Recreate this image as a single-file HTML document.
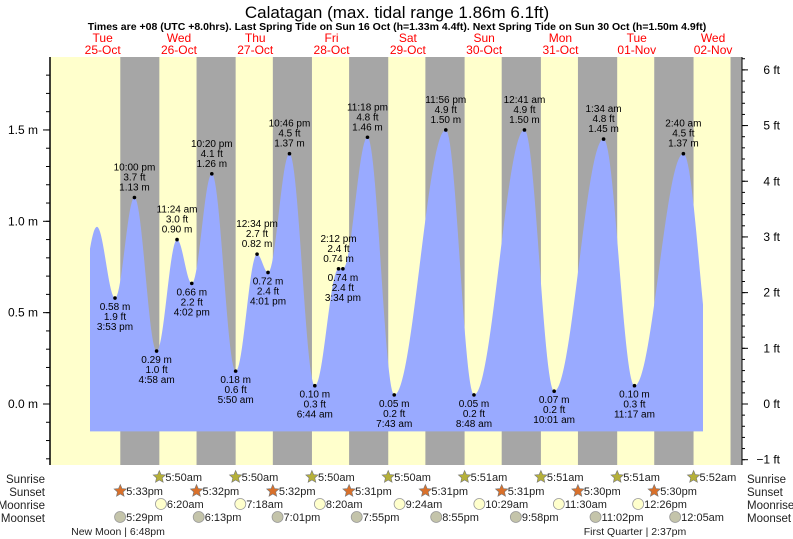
<!DOCTYPE html>
<html><head><meta charset="utf-8"><style>
body{margin:0;background:#fff;}
svg{display:block;font-family:"Liberation Sans",sans-serif;}
</style></head><body>
<svg id="c" width="793" height="539" viewBox="0 0 793 539" xmlns="http://www.w3.org/2000/svg">
<text x="397" y="18" font-size="17" text-anchor="middle" fill="#000">Calatagan (max. tidal range 1.86m 6.1ft)</text>
<text x="397" y="30" font-size="10.5" font-weight="bold" text-anchor="middle">Times are +08 (UTC +8.0hrs). Last Spring Tide on Sun 16 Oct (h=1.33m 4.4ft). Next Spring Tide on Sun 30 Oct (h=1.50m 4.9ft)</text>
<g id="bg"></g><g id="tide"></g><g id="axes"></g><g id="lbl"></g><g id="astro"></g>
</svg>
<script>
const dayNames=["Tue","Wed","Thu","Fri","Sat","Sun","Mon","Tue","Wed"];
const dayDates=["25-Oct","26-Oct","27-Oct","28-Oct","29-Oct","30-Oct","31-Oct","01-Nov","02-Nov"];
// extremes: day offset from 25-Oct, hour (decimal), height m, labelled
const tideDay=[0,0,0,0,1,1,1,1,2,2,2,2,3,3,3,3,4,4,5,6,6,7,7,8,8];
const tideHour=[3.0,10.2,15.883,22.0,4.967,11.4,16.033,22.333,5.833,12.567,16.017,22.767,6.733,14.2,15.567,23.3,7.717,23.933,8.8,0.683,10.017,1.567,11.283,2.667,12.7];
const tideM=[0.40,0.97,0.58,1.13,0.29,0.90,0.66,1.26,0.18,0.82,0.72,1.37,0.10,0.74,0.74,1.46,0.05,1.50,0.05,1.50,0.07,1.45,0.10,1.37,0.15];
const tideFt=["","","1.9","3.7","1.0","3.0","2.2","4.1","0.6","2.7","2.4","4.5","0.3","2.4","2.4","4.8","0.2","4.9","0.2","4.9","0.2","4.8","0.3","4.5",""];
const tideTime=["","","3:53 pm","10:00 pm","4:58 am","11:24 am","4:02 pm","10:20 pm","5:50 am","12:34 pm","4:01 pm","10:46 pm","6:44 am","2:12 pm","3:34 pm","11:18 pm","7:43 am","11:56 pm","8:48 am","12:41 am","10:01 am","1:34 am","11:17 am","2:40 am",""];
const sunriseDay=[1,2,3,4,5,6,7,8];
const sunriseHour=[5.833,5.833,5.833,5.833,5.85,5.85,5.85,5.867];
const sunriseTxt=["5:50am","5:50am","5:50am","5:50am","5:51am","5:51am","5:51am","5:52am"];
const sunsetDay=[0,1,2,3,4,5,6,7,8];
const sunsetHour=[17.55,17.533,17.533,17.517,17.517,17.517,17.5,17.5,17.5];
const sunsetTxt=["5:33pm","5:32pm","5:32pm","5:31pm","5:31pm","5:31pm","5:30pm","5:30pm",""];
const moonriseDay=[1,2,3,4,5,6,7];
const moonriseHour=[6.333,7.3,8.333,9.4,10.483,11.5,12.433];
const moonriseTxt=["6:20am","7:18am","8:20am","9:24am","10:29am","11:30am","12:26pm"];
const moonsetDay=[0,1,2,3,4,5,6,8];
const moonsetHour=[17.483,18.217,19.017,19.917,20.917,21.967,23.033,0.083];
const moonsetTxt=["5:29pm","6:13pm","7:01pm","7:55pm","8:55pm","9:58pm","11:02pm","12:05am"];
const yTicksM=[0,0.5,1.0,1.5];
const yTicksFt=[-1,0,1,2,3,4,5,6];

const X0=64.5,PXD=76.3,Y0=404,PXM=182.7,L=50,R=742,T=57,B=465;
const xs=(d,h)=>X0+PXD*(d+h/24);
const ym=m=>Y0-PXM*m;
const NS="http://www.w3.org/2000/svg";
function mk(tag,attrs,parent,txt){const e=document.createElementNS(NS,tag);for(const k in attrs)e.setAttribute(k,attrs[k]);if(txt!==undefined)e.textContent=txt;parent.appendChild(e);return e;}
const bg=document.getElementById('bg'),tide=document.getElementById('tide'),axes=document.getElementById('axes'),lbl=document.getElementById('lbl'),astro=document.getElementById('astro');

let r=mk('rect',{x:L,y:T,width:R-L,height:B-T,fill:'#ffffcc'},bg);


for(let i=0;i<sunsetDay.length;i++){
  const x1=xs(sunsetDay[i],sunsetHour[i]);
  const x2=i<sunriseDay.length?xs(sunriseDay[i],sunriseHour[i]):R;
  const n=mk('rect',{x:x1,y:T,width:Math.min(x2,R)-x1,height:B-T,fill:'#a6a6a6'},bg);
  
  
}
for(let i=0;i<dayNames.length;i++){
  const x=xs(i,12);
  const t1=mk('text',{x:x,y:42,'font-size':12,fill:'#ff0000','text-anchor':'middle'},lbl,dayNames[i]);
  
  
  const t2=mk('text',{x:x,y:54,'font-size':12,fill:'#ff0000','text-anchor':'middle'},lbl,dayDates[i]);
  
  
}
const ex=tideDay.map((d,i)=>xs(d,tideHour[i]));
const xa=90,xb=703,ybot=ym(-0.15);
let pts=[];
for(let x=xa;x<=xb;x+=1){
  let k=0;while(k<ex.length-2&&ex[k+1]<x)k++;
  const f=(x-ex[k])/(ex[k+1]-ex[k]);
  const h=tideM[k]+(tideM[k+1]-tideM[k])*(1-Math.cos(Math.PI*f))/2;
  pts.push(x.toFixed(1)+','+ym(h).toFixed(1));
}
const p=mk('path',{d:'M'+xa+','+ybot+' L'+pts.join(' L')+' L'+xb+','+ybot+' Z',fill:'#99aaff'},tide);


for(let i=0;i<tideM.length;i++){
  if(!tideTime[i])continue;
  const x=ex[i],y=ym(tideM[i]);
  const isHigh=(i>0&&tideM[i]>tideM[i-1]);
  const d=mk('circle',{cx:x,cy:y,r:1.8,fill:'#000'},lbl);
  
  
  const lines=isHigh?[tideTime[i],tideFt[i]+' ft',tideM[i].toFixed(2)+' m']:[tideM[i].toFixed(2)+' m',tideFt[i]+' ft',tideTime[i]];
  const base=isHigh?y-27:y+12;
  lines.forEach((s,j)=>{
    const t=mk('text',{x:x,y:base+j*10,'font-size':10,'text-anchor':'middle',fill:'#000'},lbl,s);
    
    
  });
}
mk('line',{x1:L,y1:T,x2:L,y2:B,stroke:'#000','stroke-width':1.5},axes);
mk('line',{x1:R,y1:T,x2:R,y2:B,stroke:'#000','stroke-width':1},axes);
for(let m=-0.3;m<=1.91;m+=0.1){const y=ym(m);if(y<T||y>B)continue;mk('line',{x1:L-4,y1:y,x2:L,y2:y,stroke:'#000'},axes);}
yTicksM.forEach(m=>{const y=ym(m);mk('line',{x1:L-7,y1:y,x2:L,y2:y,stroke:'#000'},axes);
  const t=mk('text',{x:L-12,y:y+4,'font-size':12,'text-anchor':'end'},axes,m.toFixed(1)+' m');
  
  });
for(let f=-1.2;f<=6.3;f+=0.2){const y=ym(f*0.3048);if(y<T||y>B)continue;mk('line',{x1:R,y1:y,x2:R+3,y2:y,stroke:'#000'},axes);}
yTicksFt.forEach(f=>{const y=ym(f*0.3048);mk('line',{x1:R,y1:y,x2:R+6,y2:y,stroke:'#000'},axes);
  const t=mk('text',{x:R+38,y:y+4,'font-size':12,'text-anchor':'end'},axes,(f<0?'\u2212'+(-f):f)+' ft');
  
  });
const rows=[["Sunrise",479],["Sunset",492],["Moonrise",505],["Moonset",518]];
rows.forEach(([n,y])=>{
  const a=mk('text',{x:45,y:y+4,'font-size':11.5,'text-anchor':'end',fill:'#222'},astro,n);
  
  
  const b=mk('text',{x:747,y:y+4,'font-size':11.5,fill:'#222'},astro,n);
  
  
});
function star(cx,cy,fill){let s='';for(let k=0;k<10;k++){const rr=k%2?3:6.5,a=-Math.PI/2+k*Math.PI/5;s+=(cx+rr*Math.cos(a)).toFixed(1)+','+(cy+rr*Math.sin(a)).toFixed(1)+' ';}return mk('polygon',{points:s,fill:fill,stroke:'#777','stroke-width':0.6},astro);}
function entry(days,hours,txts,y,kind){
  for(let i=0;i<days.length;i++){if(!txts[i])continue;const x=xs(days[i],hours[i]);
    let ic;
    if(kind==='sunrise')ic=star(x,y,'#b5b03a');else if(kind==='sunset')ic=star(x,y,'#d9702a');
    else ic=mk('circle',{cx:x,cy:y,r:5.5,fill:kind==='moonrise'?'#ffffcc':'#c4c4aa',stroke:'#999','stroke-width':0.8},astro);
    
    
    const t=mk('text',{x:x+6,y:y+4,'font-size':11,fill:'#222'},astro,txts[i]);
    
    }
}
entry(sunriseDay,sunriseHour,sunriseTxt,477,'sunrise');
entry(sunsetDay,sunsetHour,sunsetTxt,491,'sunset');
entry(moonriseDay,moonriseHour,moonriseTxt,504,'moonrise');
entry(moonsetDay,moonsetHour,moonsetTxt,517,'moonset');
const nm=mk('text',{x:118,y:535,'font-size':10.5,'text-anchor':'middle',fill:'#222'},astro,'New Moon | 6:48pm');


const fq=mk('text',{x:635,y:535,'font-size':10.5,'text-anchor':'middle',fill:'#222'},astro,'First Quarter | 2:37pm');


</script>
</body></html>
